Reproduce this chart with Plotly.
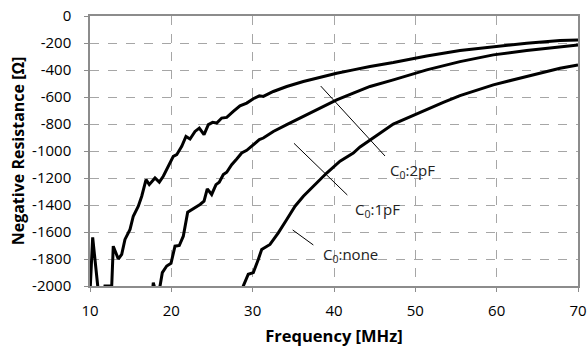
import plotly.graph_objects as go

# C0: 2pF
f_2pf = [10.0, 10.33, 10.95, 11.3, 11.84, 12.67, 12.86, 13.48, 13.90, 14.30, 14.92, 15.32, 15.94,
         16.36, 16.89, 17.29, 17.99, 18.52, 19.01, 19.63, 20.24, 20.66, 21.28, 21.80, 22.30,
         22.91, 23.44, 24.02, 24.55, 25.08, 25.58, 26.19, 26.81, 27.62, 28.44, 29.27, 30.08,
         30.82, 31.31, 32.54, 34.19, 36.23, 38.28, 40.33, 42.37, 44.43, 47.29, 51.40, 55.49,
         59.59, 63.69, 67.79, 70.0]
r_2pf = [-2050, -1640, -2000, -2300, -2000, -2000, -1705, -1800, -1766, -1655, -1581, -1483, -1409,
         -1335, -1212, -1249, -1200, -1231, -1187, -1113, -1040, -1027, -965, -892, -911,
         -855, -830, -879, -805, -788, -793, -756, -751, -707, -665, -645, -613,
         -591, -596, -559, -522, -485, -453, -424, -399, -374, -345, -296, -256,
         -227, -202, -182, -177]

# C0: 1pF
f_1pf = [17.6, 17.78, 18.12, 18.61, 18.89, 19.43, 19.96, 20.45, 20.98, 21.47, 22.01, 22.70, 23.53,
         24.02, 24.42, 24.96, 25.49, 25.89, 26.39, 26.81, 27.42, 28.04, 28.65, 29.27, 30.08,
         30.82, 31.31, 32.54, 34.19, 36.23, 38.28, 40.33, 42.37, 43.20, 44.43, 47.29, 51.40,
         55.49, 59.59, 63.69, 67.79, 70.0]
r_1pf = [-2100, -1975, -2050, -2000, -1901, -1852, -1832, -1705, -1700, -1631, -1453, -1428, -1396,
         -1372, -1280, -1322, -1249, -1231, -1175, -1157, -1101, -1059, -1015, -995, -953,
         -916, -904, -855, -805, -744, -682, -621, -571, -552, -522, -473, -399,
         -338, -288, -256, -227, -214]

# C0: none
f_none = [28.65, 28.85, 29.46, 30.08, 30.69, 31.11, 32.13, 33.15, 34.19, 35.21, 36.23, 37.88,
          39.10, 40.74, 42.37, 43.20, 44.43, 45.25, 47.29, 49.35, 51.40, 53.44, 55.49, 59.59,
          63.69, 67.79, 70.0]
r_none = [-2100, -2000, -1913, -1901, -1803, -1729, -1692, -1606, -1507, -1409, -1335, -1236,
          -1163, -1075, -1015, -970, -916, -885, -800, -745, -690, -640, -590, -510,
          -448, -387, -362]

# annotation leader lines (x0, y0, x1, y1) and labels (x, y, text)
leaders = [(38.37, -519, 46.27, -1037), (35.08, -943, 41.64, -1326), (34.92, -1585, 37.46, -1696)]
labels = [(46.65, -1148, "C<sub>0</sub>:2pF"), (42.3, -1437, "C<sub>0</sub>:1pF"),
          (38.4, -1770, "C<sub>0</sub>:none")]

x_ticks = [10, 20, 30, 40, 50, 60, 70]
y_ticks = list(range(-2000, 1, 200))

FONT = "Open Sans"

fig = go.Figure()
for fx, ry in [(f_2pf, r_2pf), (f_1pf, r_1pf), (f_none, r_none)]:
    fig.add_trace(go.Scatter(x=fx, y=ry, mode="lines",
                             line=dict(color="black", width=3), showlegend=False))

for x0, y0, x1, y1 in leaders:
    fig.add_shape(type="line", x0=x0, y0=y0, x1=x1, y1=y1, xref="x", yref="y",
                  line=dict(color="black", width=1))
for x, y, t in labels:
    fig.add_annotation(x=x, y=y, text=t, showarrow=False, xanchor="left", yanchor="middle",
                       font=dict(family=FONT, size=15, color="#222"))

axis_common = dict(showline=True, linecolor="#8c8c8c", linewidth=1.5, mirror=True,
                   showgrid=True, gridcolor="#a6a6a6", griddash="dash", gridwidth=1,
                   ticks="outside", ticklen=4, tickcolor="#8c8c8c", zeroline=False,
                   automargin=False,
                   tickfont=dict(family=FONT, size=15, color="black"))

fig.update_xaxes(range=[10, 70], tickvals=x_ticks, ticktext=[str(v) for v in x_ticks],
                 ticklabelstandoff=6,
                 title=dict(text="<b>Frequency [MHz]</b>", standoff=12,
                            font=dict(family=FONT, size=16.5, color="black")),
                 **axis_common)
fig.update_yaxes(range=[-2000, 0], tickvals=y_ticks, ticktext=[str(v) for v in y_ticks],
                 ticklabelstandoff=10,
                 title=dict(text="<b>Negative Resistance [Ω]</b>", standoff=4,
                            font=dict(family=FONT, size=16, color="black")),
                 **axis_common)

fig.update_layout(width=587, height=349, margin=dict(l=90, r=9, t=16, b=63),
                  plot_bgcolor="white", paper_bgcolor="white",
                  font=dict(family=FONT, color="black"))

fig.write_html("out.html")
